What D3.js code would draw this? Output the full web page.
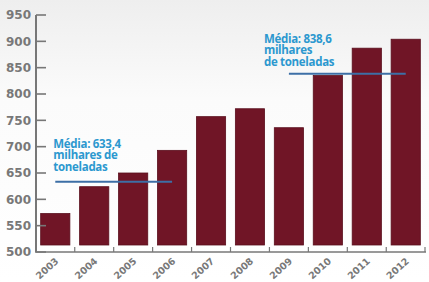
<!DOCTYPE html>
<html>
<head>
<meta charset="utf-8">
<script src="https://cdn.jsdelivr.net/npm/d3@7"></script>
<style>
	body { margin: 0; background: #fff; }
	svg { display: block; }
	.ylab, .xlab { font-family: "DejaVu Sans", sans-serif; font-weight: bold; fill: #787878; }
	.note { font-family: "Open Sans", sans-serif; font-weight: 700; fill: #2c98cf; }
</style>
</head>
<body>
<svg id="chart" width="429" height="282"></svg>
<script>
var years = ["2003", "2004", "2005", "2006", "2007", "2008", "2009", "2010", "2011", "2012"];
var values = [573, 624, 650, 693, 757, 772, 736, 835, 887, 904];
var yTicks = [500, 550, 600, 650, 700, 750, 800, 850, 900, 950];

var avgValues = [633.4, 838.6];
var avgFrom = ["2003", "2009"];
var avgTo = ["2006", "2012"];
var avgText = [
	["Média: 633,4", "milhares de", "toneladas"],
	["Média: 838,6", "milhares", "de toneladas"]
];

buildChart();

function buildChart() {
	var svg = d3.select("#chart");

	var x = d3.scaleBand()
		.domain(years)
		.range([36, 425])
		.paddingInner(0.25)
		.paddingOuter(0.12);

	var y = d3.scaleLinear()
		.domain([500, 950])
		.range([252, 15]);

	// faint grey wash at the top
	var grad = svg.append("defs").append("linearGradient")
		.attr("id", "bg").attr("x1", 0).attr("y1", 0).attr("x2", 0).attr("y2", 1);
	grad.append("stop").attr("offset", "0").attr("stop-color", "#eeeeee");
	grad.append("stop").attr("offset", "0.35").attr("stop-color", "#fbfbfb");
	grad.append("stop").attr("offset", "1").attr("stop-color", "#ffffff");
	svg.append("rect").attr("width", 429).attr("height", 282).attr("fill", "url(#bg)");

	// bars stop a little above the axis line
	svg.append("g")
		.selectAll("rect")
		.data(values)
		.enter().append("rect")
			.attr("x", function(d, i) { return x(years[i]); })
			.attr("y", function(d) { return y(d); })
			.attr("width", x.bandwidth())
			.attr("height", function(d) { return y(500) - 7 - y(d); })
			.attr("fill", "#701526")
			.attr("stroke", "#5a0f1d")
			.attr("stroke-width", 0.8);

	// y axis: line with ticks pointing into the plot
	var yAxis = svg.append("g");
	yAxis.append("line")
		.attr("x1", 36).attr("x2", 36)
		.attr("y1", y(950)).attr("y2", y(500))
		.attr("stroke", "#777").attr("stroke-width", 2);
	yAxis.selectAll(".tick")
		.data(yTicks)
		.enter().append("line")
			.attr("x1", 36).attr("x2", 46)
			.attr("y1", function(d) { return y(d); })
			.attr("y2", function(d) { return y(d); })
			.attr("stroke", "#777").attr("stroke-width", 1.6);
	yAxis.selectAll("text")
		.data(yTicks)
		.enter().append("text")
			.attr("class", "ylab")
			.attr("x", 31)
			.attr("y", function(d) { return y(d); })
			.attr("dy", "0.35em")
			.attr("text-anchor", "end")
			.attr("font-size", 12)
			.text(function(d) { return d; });

	// x axis: baseline with small upticks between bands
	var step = x.step();
	var edges = years.map(function(d) { return x(d) - step * x.paddingInner() / 2; });
	edges.push(425);
	var xAxis = svg.append("g");
	xAxis.append("line")
		.attr("x1", 35).attr("x2", 426)
		.attr("y1", y(500)).attr("y2", y(500))
		.attr("stroke", "#777").attr("stroke-width", 1.6);
	xAxis.selectAll(".tick")
		.data(edges.slice(1))
		.enter().append("line")
			.attr("x1", function(d) { return d; })
			.attr("x2", function(d) { return d; })
			.attr("y1", y(500)).attr("y2", y(500) - 5)
			.attr("stroke", "#777").attr("stroke-width", 1.2);
	xAxis.selectAll("text")
		.data(years)
		.enter().append("text")
			.attr("class", "xlab")
			.attr("font-size", 9.5)
			.attr("text-anchor", "end")
			.attr("transform", function(d) {
				return "translate(" + (x(d) + x.bandwidth() / 2 + 4) + "," + (y(500) + 10) + ") rotate(-42)";
			})
			.text(function(d) { return d; });

	// average lines and their notes
	var noteLift = [34, 31];
	avgValues.forEach(function(v, i) {
		var x1 = x(avgFrom[i]) + x.bandwidth() / 2;
		var x2 = x(avgTo[i]) + x.bandwidth() / 2;
		svg.append("line")
			.attr("x1", x1).attr("x2", x2)
			.attr("y1", y(v)).attr("y2", y(v))
			.attr("stroke", "#3d6fa6").attr("stroke-width", 2);

		var tx = i == 0 ? x1 - 2 : x1 - 25;
		var note = svg.append("text")
			.attr("class", "note")
			.attr("font-size", 11.5)
			.attr("x", tx)
			.attr("y", y(v) - noteLift[i]);
		note.selectAll("tspan")
			.data(avgText[i])
			.enter().append("tspan")
				.attr("x", tx)
				.attr("dy", function(d, j) { return j == 0 ? 0 : 11.5; })
				.attr("letter-spacing", -0.3)
				.text(function(d) { return d; });
	});
}
</script>
</body>
</html>
